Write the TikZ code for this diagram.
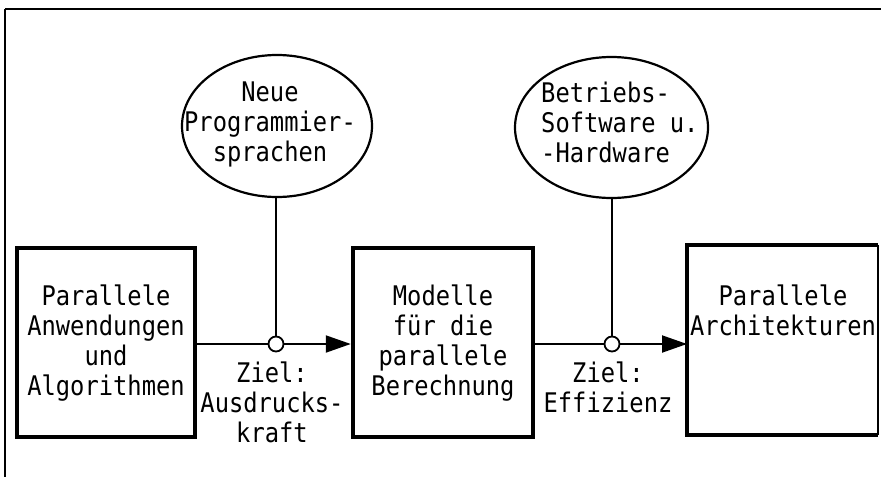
\documentclass[tikz,border=0pt]{standalone}
\usepackage{fontspec}
\newfontfamily\tw[FakeStretch=0.88]{DejaVu Sans Mono}
\usetikzlibrary{shapes.geometric,arrows.meta}
\begin{document}
\begin{tikzpicture}[x=1pt,y=-1pt,
  blk/.style={draw, line width=4.5pt, minimum width=#1, minimum height=189pt, inner sep=0pt},
  oval/.style={draw, ellipse, line width=2.2pt, inner sep=0pt},
  txt/.style={font=\tw\fontsize{27}{30}\selectfont, align=center, inner sep=0pt},
  conn/.style={line width=2pt},
  junc/.style={draw, circle, line width=1.8pt, minimum size=15pt, inner sep=0pt},
  tip/.style={-{Triangle[length=25pt,width=17pt]}}]
\useasboundingbox (0,0) rectangle (881,477);
% frame
\draw[line width=2.5pt] (881,9) -- (5,9);
\draw[line width=1.5pt] (5,9) -- (5,477);
% boxes
\node[blk=178pt] (b1) at (106,342.5) {};
\node[blk=180pt] (b2) at (443,342.5) {};
\node[minimum width=191pt, minimum height=190pt, inner sep=0pt, outer sep=0pt] (b3) at (782.5,340) {};
\draw[line width=4.5pt] (b3.north east) -- (b3.north west) -- (b3.south west) -- (b3.south east);
\draw[line width=1.5pt] (b3.north east) -- (b3.south east);
% box texts
\node[txt, anchor=north] (t1) at (106,284.5) {Parallele\\Anwendungen\\und\\Algorithmen};
\node[txt, anchor=north] (t2) at (443,284.5) {Modelle\\für die\\parallele\\Berechnung};
\node[txt, anchor=north] (t3) at (783,284.5) {Parallele\\Architekturen};
% ellipses
\node[oval, minimum width=190pt, minimum height=142pt] (e1) at (277,126) {};
\node[oval, minimum width=193pt, minimum height=141pt] (e2) at (611.5,127.5) {};
\node[txt, anchor=north] (t4) at (270,81.5) {Neue\\Programmier-\\sprachen};
\node[txt, anchor=north west, align=left] (t5) at (541,81.5) {Betriebs-\\Software u.\\-Hardware};
% junctions
\node[junc] (c1) at (276,344) {};
\node[junc] (c2) at (612,344) {};
\draw[conn] (c1.north) -- (c1.north |- e1.south);
\draw[conn] (c2.north) -- (c2.north |- e2.south);
\draw[conn] (b1.east |- c1) -- (c1.west);
\draw[conn, tip] (c1.east) -- (c1 -| b2.west);
\draw[conn] (b2.east |- c2) -- (c2.west);
\draw[conn, tip] (c2.east) -- (c2 -| b3.west);
% labels
\node[txt, anchor=north] (l1) at (272,361.5) {Ziel:\\Ausdrucks-\\kraft};
\node[txt, anchor=north] (l2) at (608,361.5) {Ziel:\\Effizienz};
\end{tikzpicture}
\end{document}
